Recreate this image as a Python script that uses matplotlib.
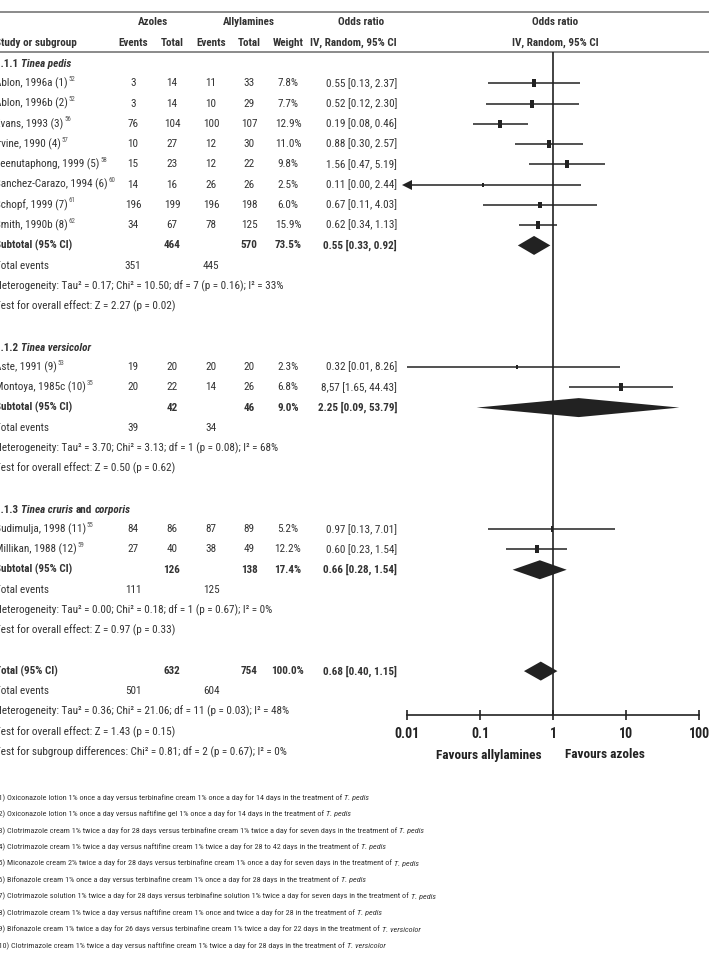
import numpy as np
import matplotlib
matplotlib.use("Agg")
import matplotlib.pyplot as plt
from matplotlib import font_manager
from matplotlib.ticker import NullLocator


def pick_font():
    fl = font_manager.fontManager.ttflist
    names = {f.name for f in fl}
    for nm in ["Liberation Sans Narrow", "Roboto Condensed", "Open Sans Condensed",
               "Noto Sans Condensed", "DejaVu Sans Condensed"]:
        if nm in names:
            return nm, "normal", "A"
    for nm in ["Noto Sans", "Open Sans", "Roboto", "DejaVu Sans", "Lato", "Inter"]:
        for st in ["condensed", "semi-condensed", "extra-condensed"]:
            if any(f.name == nm and f.stretch == st for f in fl):
                return nm, st, "B"
    return "Roboto", "normal", "C"


FONT, STRETCH, KIND = pick_font()
plt.rcParams["font.family"] = [FONT, "DejaVu Sans"]
plt.rcParams["font.stretch"] = STRETCH

# ---- data -------------------------------------------------------------
studies = ["Ablon, 1996a (1)", "Ablon, 1996b (2)", "Evans, 1993 (3)", "Irvine, 1990 (4)",
           "Leenutaphong, 1999 (5)", "Sanchez-Carazo, 1994 (6)", "Schopf, 1999 (7)",
           "Smith, 1990b (8)", "Aste, 1991 (9)", "Montoya, 1985c (10)",
           "Budimulja, 1998 (11)", "Millikan, 1988 (12)"]
refs = ["52", "52", "56", "57", "58", "60", "61", "62", "53", "35", "55", "59"]
az_events = [3, 3, 76, 10, 15, 14, 196, 34, 19, 20, 84, 27]
az_total = [14, 14, 104, 27, 23, 16, 199, 67, 20, 22, 86, 40]
al_events = [11, 10, 100, 12, 12, 26, 196, 78, 20, 14, 87, 38]
al_total = [33, 29, 107, 30, 22, 26, 198, 125, 20, 26, 89, 49]
weights = [7.8, 7.7, 12.9, 11.0, 9.8, 2.5, 6.0, 15.9, 2.3, 6.8, 5.2, 12.2]
or_est = [0.55, 0.52, 0.19, 0.88, 1.56, 0.11, 0.67, 0.62, 0.32, 8.57, 0.97, 0.60]
or_lo = [0.13, 0.12, 0.08, 0.30, 0.47, 0.00, 0.11, 0.34, 0.01, 1.65, 0.13, 0.23]
or_hi = [2.37, 2.30, 0.46, 2.57, 5.19, 2.44, 4.03, 1.13, 8.26, 44.43, 7.01, 1.54]

# group headings: (text, italic?) pieces
group_names = [[("1.1.1", False), ("Tinea pedis", True)],
               [("1.1.2", False), ("Tinea versicolor", True)],
               [("1.1.3", False), ("Tinea cruris", True), ("and", False), ("corporis", True)]]
group_sizes = [8, 2, 2]
sub_az_total = [464, 42, 126]
sub_al_total = [570, 46, 138]
sub_weight = [73.5, 9.0, 17.4]
sub_or = [0.55, 2.25, 0.66]
sub_lo = [0.33, 0.09, 0.28]
sub_hi = [0.92, 53.79, 1.54]
sub_az_events = [351, 39, 111]
sub_al_events = [445, 34, 125]
sub_het = ["Tau² = 0.17; Chi² = 10.50; df = 7 (p = 0.16); I² = 33%",
           "Tau² = 3.70; Chi² = 3.13; df = 1 (p = 0.08); I² = 68%",
           "Tau² = 0.00; Chi² = 0.18; df = 1 (p = 0.67); I² = 0%"]
sub_z = ["Z = 2.27 (p = 0.02)", "Z = 0.50 (p = 0.62)", "Z = 0.97 (p = 0.33)"]

tot_az_total, tot_al_total, tot_weight = 632, 754, 100.0
tot_or, tot_lo, tot_hi = 0.68, 0.40, 1.15
tot_az_events, tot_al_events = 501, 604
tot_het = "Tau² = 0.36; Chi² = 21.06; df = 11 (p = 0.03); I² = 48%"
tot_z = "Z = 1.43 (p = 0.15)"
subgroup_diff = "Chi² = 0.81; df = 2 (p = 0.67); I² = 0%"

ticks = [0.01, 0.1, 1, 10, 100]
tick_labels = ["0.01", "0.1", "1", "10", "100"]

footnotes = [
    ("(1) Oxiconazole lotion 1% once a day versus terbinafine cream 1% once a day for 14 days in the treatment of", "T. pedis"),
    ("(2) Oxiconazole lotion 1% once a day versus naftifine gel 1% once a day for 14 days in the treatment of", "T. pedis"),
    ("(3) Clotrimazole cream 1% twice a day for 28 days versus terbinafine cream 1% twice a day for seven days in the treatment of", "T. pedis"),
    ("(4) Clotrimazole cream 1% twice a day versus naftifine cream 1% twice a day for 28 to 42 days in the treatment of", "T. pedis"),
    ("(5) Miconazole cream 2% twice a day for 28 days versus terbinafine cream 1% once a day for seven days in the treatment of", "T. pedis"),
    ("(6) Bifonazole cream 1% once a day versus terbinafine cream 1% once a day for 28 days in the treatment of", "T. pedis"),
    ("(7) Clotrimazole solution 1% twice a day for 28 days versus terbinafine solution 1% twice a day for seven days in the treatment of", "T. pedis"),
    ("(8) Clotrimazole cream 1% twice a day versus naftifine cream 1% once and twice a day for 28 in the treatment of", "T. pedis"),
    ("(9) Bifonazole cream 1% twice a day for 26 days versus terbinafine cream 1% twice a day for 22 days in the treatment of", "T. versicolor"),
    ("(10) Clotrimazole cream 1% twice a day versus naftifine cream 1% twice a day for 28 days in the treatment of", "T. versicolor"),
]

# ---- layout (pixel coords) -------------------------------------------
W, H = 709, 956
TXT = "#333333"
DARK = "#222222"
FS = 8 if KIND != "C" else 7.2
FN = 5.9 if KIND != "C" else 5.0
X0 = -5                      # left column is cut off in the original
C_AZE, C_AZT, C_ALE, C_ALT, C_W, C_OR = 133, 172, 211, 249, 288, 397
Y0, DY = 63, 20.27


def row_y(r):
    return Y0 + DY * r


fig = plt.figure(figsize=(W / 100, H / 100), dpi=100)
ax = fig.add_axes([0, 0, 1, 1])
ax.set_xlim(0, W)
ax.set_ylim(H, 0)
ax.axis("off")

# forest panel: x 407..699 px, y 52..715 px
AX_Y = 715
fx = fig.add_axes([407 / W, (H - AX_Y) / H, 292 / W, (AX_Y - 52) / H])
fx.set_xscale("log")
fx.set_xlim(0.01, 100)
fx.set_ylim(AX_Y, 52)
fx.patch.set_alpha(0)
for s in ["top", "left", "right"]:
    fx.spines[s].set_visible(False)
fx.spines["bottom"].set_color(DARK)
fx.spines["bottom"].set_linewidth(1.2)
fx.set_yticks([])
fx.set_xticks(ticks, tick_labels)
fx.xaxis.set_minor_locator(NullLocator())
fx.tick_params(axis="x", direction="inout", length=7, width=1.2, color=DARK,
               labelsize=FS + 2, labelcolor=DARK, pad=5.5)
for lab in fx.get_xticklabels():
    lab.set_fontweight("bold")
fx.axvline(1, color=DARK, lw=1.2, zorder=1)


def txt(x, y, s, ha="center", bold=False, size=FS, color=TXT):
    return ax.text(x, y, s, ha=ha, va="center", fontsize=size,
                   fontweight="bold" if bold else "normal", color=color)


def rich(x, y, parts, bold=False, size=FS, color=TXT):
    # pieces share one baseline; each starts where the previous one ends
    yb = y + 0.36 * size * 100 / 72
    t = None
    for s, ital in parts:
        kw = dict(fontsize=size, color=color, fontweight="bold" if bold else "normal",
                  fontstyle="italic" if ital else "normal", va="baseline", ha="left")
        if t is None:
            t = ax.text(x, yb, s, **kw)
        else:
            t = ax.annotate(s, xy=(1, yb), xycoords=(t, "data"), xytext=(0.24 * size, 0),
                            textcoords="offset points", **kw)
    return t


def sup(t, s, size=FS * 0.62):
    ax.annotate(s, xy=(1, 1), xycoords=t, xytext=(0.6, 1.2), textcoords="offset points",
                ha="left", va="top", fontsize=size, color="#555555")


# header
ax.axhline(12, color="#777777", lw=1.2)
ax.axhline(52, color="#777777", lw=1.2)
txt((C_AZE + C_AZT) / 2, 22, "Azoles", bold=True)
txt(C_ALT, 22, "Allylamines", bold=True)
txt(361, 22, "Odds ratio", bold=True)
txt(X0, 43, "Study or subgroup", ha="left", bold=True)
for x, s in [(C_AZE, "Events"), (C_AZT, "Total"), (C_ALE, "Events"),
             (C_ALT, "Total"), (C_W, "Weight")]:
    txt(x, 43, s, bold=True)
txt(C_OR, 43, "IV, Random, 95% CI", ha="right", bold=True)
txt(555, 22, "Odds ratio", bold=True)
txt(555, 43, "IV, Random, 95% CI", bold=True)

rect = [(-0.45, -1), (0.45, -1), (0.45, 1), (-0.45, 1), (-0.45, -1)]


def diamond(y, est, lo, hi):
    fx.fill([lo, est, hi, est], [y, y - 9.5, y, y + 9.5], color=DARK, lw=0, zorder=3)


r = 0
k = 0
for g, n in enumerate(group_sizes):
    rich(X0, row_y(r), group_names[g], bold=True)
    r += 1
    for i in range(k, k + n):
        y = row_y(r)
        sup(txt(X0, y, studies[i], ha="left"), refs[i])
        txt(C_AZE, y, str(az_events[i]))
        txt(C_AZT, y, str(az_total[i]))
        txt(C_ALE, y, str(al_events[i]))
        txt(C_ALT, y, str(al_total[i]))
        txt(C_W, y, f"{weights[i]:.1f}%")
        est_s = f"{or_est[i]:.2f}"
        if i == 9:
            est_s = "8,57"  # comma as printed in the source
        txt(C_OR, y, f"{est_s} [{or_lo[i]:.2f}, {or_hi[i]:.2f}]", ha="right")
        lo = max(or_lo[i], 0.01)
        fx.hlines(y, lo, or_hi[i], color=DARK, lw=1.1, zorder=2, clip_on=False)
        ms = min(8.0, 2 + 0.8 * weights[i]) * 0.72
        fx.plot(or_est[i], y, marker=rect, ms=ms, color=DARK, mew=0,
                zorder=3, clip_on=False)
        if or_lo[i] < 0.01:
            fx.plot(0.01, y, marker="<", ms=7, color=DARK, mew=0, clip_on=False)
        r += 1
    k += n
    y = row_y(r)
    txt(X0, y, "Subtotal (95% CI)", ha="left", bold=True)
    txt(C_AZT, y, str(sub_az_total[g]), bold=True)
    txt(C_ALT, y, str(sub_al_total[g]), bold=True)
    txt(C_W, y, f"{sub_weight[g]:.1f}%", bold=True)
    txt(C_OR, y, f"{sub_or[g]:.2f} [{sub_lo[g]:.2f}, {sub_hi[g]:.2f}]", ha="right", bold=True)
    diamond(y, sub_or[g], sub_lo[g], sub_hi[g])
    r += 1
    txt(X0, row_y(r), "Total events", ha="left")
    txt(C_AZE, row_y(r), str(sub_az_events[g]))
    txt(C_ALE, row_y(r), str(sub_al_events[g]))
    r += 1
    txt(X0, row_y(r), "Heterogeneity: " + sub_het[g], ha="left")
    r += 1
    txt(X0, row_y(r), "Test for overall effect: " + sub_z[g], ha="left")
    r += 2

y = row_y(r)
txt(X0, y, "Total (95% CI)", ha="left", bold=True)
txt(C_AZT, y, str(tot_az_total), bold=True)
txt(C_ALT, y, str(tot_al_total), bold=True)
txt(C_W, y, f"{tot_weight:.1f}%", bold=True)
txt(C_OR, y, f"{tot_or:.2f} [{tot_lo:.2f}, {tot_hi:.2f}]", ha="right", bold=True)
diamond(y, tot_or, tot_lo, tot_hi)
r += 1
txt(X0, row_y(r), "Total events", ha="left")
txt(C_AZE, row_y(r), str(tot_az_events))
txt(C_ALE, row_y(r), str(tot_al_events))
r += 1
txt(X0, row_y(r), "Heterogeneity: " + tot_het, ha="left")
r += 1
txt(X0, row_y(r), "Test for overall effect: " + tot_z, ha="left")
r += 1
txt(X0, row_y(r), "Test for subgroup differences: " + subgroup_diff, ha="left")

txt(542, 755, "Favours allylamines", ha="right", bold=True, size=FS + 1.5, color=DARK)
txt(565, 755, "Favours azoles", ha="left", bold=True, size=FS + 1.5, color=DARK)

for j, (s, it) in enumerate(footnotes):
    rich(-4, 797 + 16.45 * j, [(s, False), (it, True)], size=FN)

fig.savefig("out.png", dpi=100)
